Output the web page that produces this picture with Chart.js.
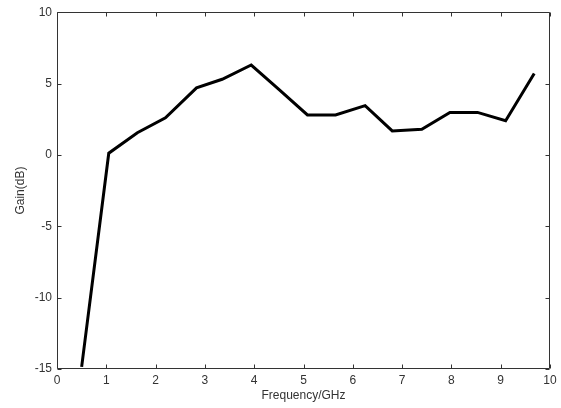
<!DOCTYPE html>
<html>
<head>
<meta charset="utf-8">
<script src="https://cdn.jsdelivr.net/npm/chart.js@4/dist/chart.umd.min.js"></script>
<style>
  html, body { margin: 0; padding: 0; background: #fff; }
  #wrap { width: 561px; height: 408px; }
</style>
</head>
<body>
<div id="wrap"><canvas id="chart" width="561" height="408"></canvas></div>
<script>
// values
const freq = [0.5, 1.05, 1.63, 2.2, 2.83, 3.35, 3.94, 4.5, 5.08, 5.65, 6.25, 6.8, 7.4, 7.97, 8.53, 9.1, 9.68];
const gain = [-14.85, 0.12, 1.55, 2.6, 4.7, 5.3, 6.3, 4.6, 2.8, 2.8, 3.45, 1.68, 1.8, 2.98, 2.98, 2.4, 5.7];

const xTicks = [0, 1, 2, 3, 4, 5, 6, 7, 8, 9, 10];
const yTicks = [-15, -10, -5, 0, 5, 10];

const axisColor = "#333";
const textColor = "#333";

// boxed frame with short inward ticks on all four sides (matlab look)
Chart.register({
  id: "frame",
  afterDraw: (chart) => {
    const ctx = chart.ctx;
    const { left, top, right, bottom } = chart.chartArea;
    const L = Math.round(left) + 0.5, R = Math.round(right) - 0.5;
    const T = Math.round(top) + 0.5, B = Math.round(bottom) - 0.5;
    const len = 4;
    ctx.save();
    ctx.strokeStyle = axisColor;
    ctx.lineWidth = 1;
    ctx.beginPath();
    ctx.rect(L, T, R - L, B - T);
    xTicks.forEach((v) => {
      const x = Math.round(chart.scales.x.getPixelForValue(v)) + 0.5;
      ctx.moveTo(x, B); ctx.lineTo(x, B - len);
      ctx.moveTo(x, T); ctx.lineTo(x, T + len);
    });
    yTicks.forEach((v) => {
      const y = Math.round(chart.scales.y.getPixelForValue(v)) + 0.5;
      ctx.moveTo(L, y); ctx.lineTo(L + len, y);
      ctx.moveTo(R, y); ctx.lineTo(R - len, y);
    });
    ctx.stroke();
    ctx.restore();
  },
});

Chart.defaults.font.family = "'Liberation Sans', Arial, sans-serif";
Chart.defaults.font.size = 12;
Chart.defaults.color = textColor;

new Chart("chart", {
  type: "scatter",
  data: {
    datasets: [
      {
        label: "Gain",
        data: freq.map((f, i) => ({ x: f, y: gain[i] })),
        showLine: true,
        borderColor: "#000",
        borderWidth: 3,
        pointRadius: 0,
        tension: 0,
      },
    ],
  },
  options: {
    responsive: false,
    animation: false,
    layout: { padding: { left: 0, top: 11, right: 11, bottom: 0 } },
    plugins: {
      legend: { display: false },
      tooltip: { enabled: false },
    },
    scales: {
      x: {
        type: "linear",
        min: 0,
        max: 10,
        afterBuildTicks: (scale) => { scale.ticks = xTicks.map((v) => ({ value: v })); },
        afterFit: (scale) => { scale.height = 39; },
        grid: { display: false, drawTicks: false },
        border: { display: false },
        ticks: { padding: 4, color: textColor, maxRotation: 0 },
        title: {
          display: true,
          text: "Frequency/GHz",
          color: textColor,
          padding: { top: 5, bottom: 5 },
        },
      },
      y: {
        type: "linear",
        min: -15,
        max: 10,
        afterBuildTicks: (scale) => { scale.ticks = yTicks.map((v) => ({ value: v })); },
        afterFit: (scale) => { scale.width = 57; },
        grid: { display: false, drawTicks: false },
        border: { display: false },
        ticks: { padding: 5, color: textColor },
        title: {
          display: true,
          text: "Gain(dB)",
          color: textColor,
          padding: { top: 13, bottom: 13 },
        },
      },
    },
  },
});
</script>
</body>
</html>
